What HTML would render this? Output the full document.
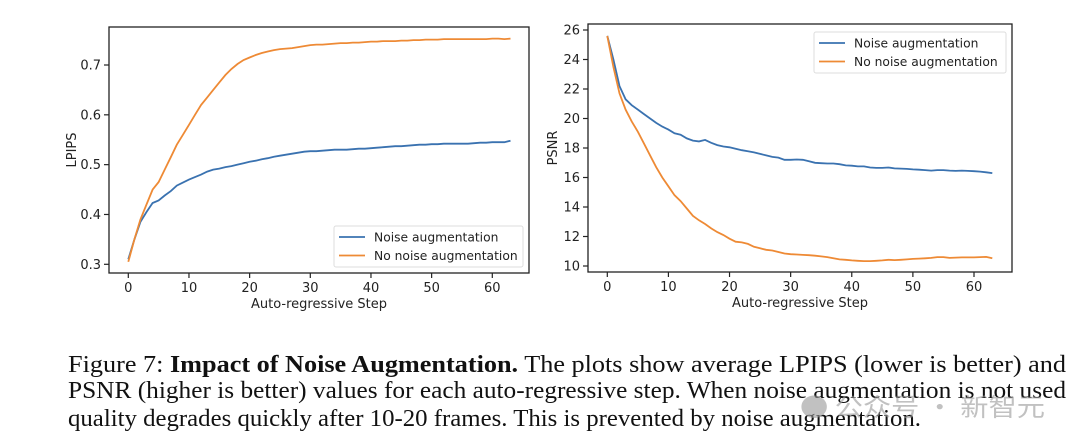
<!DOCTYPE html>
<html><head><meta charset="utf-8"><style>
body{margin:0;background:#fff;width:1080px;height:447px;overflow:hidden}
svg{display:block}
.t{font-family:"DejaVu Sans","Liberation Sans",sans-serif;font-size:13px;fill:#222}
.lt{font-family:"DejaVu Sans","Liberation Sans",sans-serif;font-size:12.3px;fill:#222}
.cap{font-family:"Liberation Serif",serif;font-size:24px;fill:#111}
</style></head><body>
<svg id="fig" width="1080" height="447" viewBox="0 0 1080 447" xmlns="http://www.w3.org/2000/svg">
<g id="left"></g>
<g id="right"></g>
<g>
<text class="cap" x="68" y="372" textLength="998" lengthAdjust="spacingAndGlyphs">Figure 7: <tspan font-weight="bold">Impact of Noise Augmentation.</tspan> The plots show average LPIPS (lower is better) and</text>
<text class="cap" x="68" y="398" textLength="998" lengthAdjust="spacingAndGlyphs">PSNR (higher is better) values for each auto-regressive step. When noise augmentation is not used</text>
<text class="cap" x="68" y="426" textLength="853" lengthAdjust="spacingAndGlyphs">quality degrades quickly after 10-20 frames. This is prevented by noise augmentation.</text>
</g>
<text x="800" y="416" font-family="'Noto Sans CJK SC',sans-serif" font-size="25" fill="#999" opacity="0.6" textLength="245" lengthAdjust="spacingAndGlyphs">● 公众号 · 新智元</text>
</svg>
<script>
const steps = Array.from({length:64},(_,i)=>i);
const lpipsNoise = [0.31,0.35,0.385,0.405,0.423,0.428,0.438,0.447,0.458,0.464,0.47,0.475,0.48,0.486,0.49,0.492,0.495,0.497,0.5,0.503,0.506,0.508,0.511,0.513,0.516,0.518,0.52,0.522,0.524,0.526,0.527,0.527,0.528,0.529,0.53,0.53,0.53,0.531,0.532,0.532,0.533,0.534,0.535,0.536,0.537,0.537,0.538,0.539,0.54,0.54,0.541,0.541,0.542,0.542,0.542,0.542,0.542,0.543,0.544,0.544,0.545,0.545,0.545,0.548];
const lpipsNoNoise = [0.305,0.35,0.39,0.42,0.45,0.465,0.49,0.515,0.54,0.56,0.58,0.6,0.62,0.635,0.65,0.665,0.68,0.692,0.702,0.71,0.715,0.72,0.724,0.727,0.73,0.732,0.733,0.734,0.736,0.738,0.74,0.741,0.741,0.742,0.743,0.744,0.744,0.745,0.745,0.746,0.747,0.747,0.748,0.748,0.748,0.749,0.749,0.75,0.75,0.751,0.751,0.751,0.752,0.752,0.752,0.752,0.752,0.752,0.752,0.752,0.753,0.753,0.752,0.753];
const psnrNoise = [25.6,24.0,22.2,21.3,20.9,20.6,20.3,20.0,19.7,19.45,19.25,19.0,18.9,18.65,18.5,18.45,18.55,18.35,18.2,18.1,18.05,17.95,17.85,17.78,17.7,17.6,17.5,17.4,17.35,17.2,17.2,17.22,17.2,17.1,17.0,16.97,16.95,16.95,16.9,16.82,16.8,16.75,16.75,16.68,16.65,16.65,16.68,16.62,16.6,16.58,16.55,16.53,16.5,16.47,16.5,16.5,16.47,16.45,16.47,16.45,16.43,16.4,16.35,16.3];
const psnrNoNoise = [25.6,23.5,21.7,20.6,19.8,19.1,18.3,17.5,16.7,16.0,15.4,14.8,14.4,13.9,13.4,13.1,12.85,12.55,12.3,12.1,11.85,11.65,11.6,11.5,11.3,11.2,11.1,11.05,10.95,10.85,10.8,10.78,10.75,10.73,10.7,10.65,10.6,10.52,10.45,10.42,10.38,10.35,10.33,10.33,10.35,10.38,10.42,10.4,10.42,10.45,10.48,10.5,10.52,10.55,10.6,10.6,10.55,10.57,10.58,10.58,10.58,10.6,10.62,10.52];
const xTicks = [0,10,20,30,40,50,60];
const lpipsTicks = [0.3,0.4,0.5,0.6,0.7];
const psnrTicks = [10,12,14,16,18,20,22,24,26];
const seriesNames = ["Noise augmentation","No noise augmentation"];
const NS="http://www.w3.org/2000/svg";
function mk(p,tag,a){const e=document.createElementNS(NS,tag);for(const k in a)e.setAttribute(k,a[k]);p.appendChild(e);return e;}
function chart(g,o){
  const sx=v=>o.x0px+(v-0)*(o.x60px-o.x0px)/60;
  const sy=v=>o.yApx+(v-o.yA)*(o.yBpx-o.yApx)/(o.yB-o.yA);
  const cols=["#3a72b0","#ee8a35"];
  [o.s1,o.s2].forEach((s,i)=>{
    const d=s.map((v,j)=>(j?"L":"M")+sx(steps[j]).toFixed(1)+","+sy(v).toFixed(1)).join("");
    const p=mk(g,"path",{d,fill:"none",stroke:cols[i],"stroke-width":1.8});
    
    
  });
  const fr=mk(g,"rect",{x:o.L,y:o.T,width:o.R-o.L,height:o.B-o.T,fill:"none",stroke:"#222","stroke-width":1.3});
  
  
  xTicks.forEach(v=>{
    const x=sx(v);
    mk(g,"line",{x1:x,x2:x,y1:o.B,y2:o.B+5,stroke:"#222","stroke-width":1.2});
    const t=mk(g,"text",{x:x,y:o.B+19,"text-anchor":"middle",class:"t"});t.textContent=v;
    
    
  });
  o.ticks.forEach(v=>{
    const y=sy(v);
    mk(g,"line",{x1:o.L-5,x2:o.L,y1:y,y2:y,stroke:"#222","stroke-width":1.2});
    const t=mk(g,"text",{x:o.L-8,y:y+4.5,"text-anchor":"end",class:"t"});t.textContent=o.fmt(v);
    
    
  });
  const xt=mk(g,"text",{x:(o.L+o.R)/2,y:o.B+35,"text-anchor":"middle",class:"t"});xt.textContent="Auto-regressive Step";
  
  
  const yt=mk(g,"text",{x:0,y:0,"text-anchor":"middle",class:"t",transform:`translate(${o.ylx},${(o.T+o.B)/2}) rotate(-90)`});yt.textContent=o.ylab;
  
  
  const lg=mk(g,"g",{});
  
  
  mk(lg,"rect",{x:o.lx,y:o.ly,width:o.lw,height:41,rx:2,fill:"#fff","fill-opacity":0.85,stroke:"#ddd"});
  seriesNames.forEach((n,i)=>{
    const y=o.ly+11+i*18.5;
    mk(lg,"line",{x1:o.lx+5,x2:o.lx+31,y1:y,y2:y,stroke:cols[i],"stroke-width":1.8});
    const t=mk(lg,"text",{x:o.lx+40,y:y+4.5,class:"lt"});t.textContent=n;
    
    
  });
}
chart(document.getElementById('left'),{L:109,R:529,T:27,B:273,x0px:128.3,x60px:492.3,yA:0.3,yApx:264.3,yB:0.7,yBpx:65,s1:lpipsNoise,s2:lpipsNoNoise,ticks:lpipsTicks,fmt:v=>v.toFixed(1),ylab:"LPIPS",ylx:76,lx:334,ly:226,lw:189});
chart(document.getElementById('right'),{L:588,R:1012,T:24,B:272,x0px:607.3,x60px:974,yA:10,yApx:266,yB:26,yBpx:30,s1:psnrNoise,s2:psnrNoNoise,ticks:psnrTicks,fmt:v=>v,ylab:"PSNR",ylx:557,lx:814,ly:32,lw:192});
</script>
</body></html>
